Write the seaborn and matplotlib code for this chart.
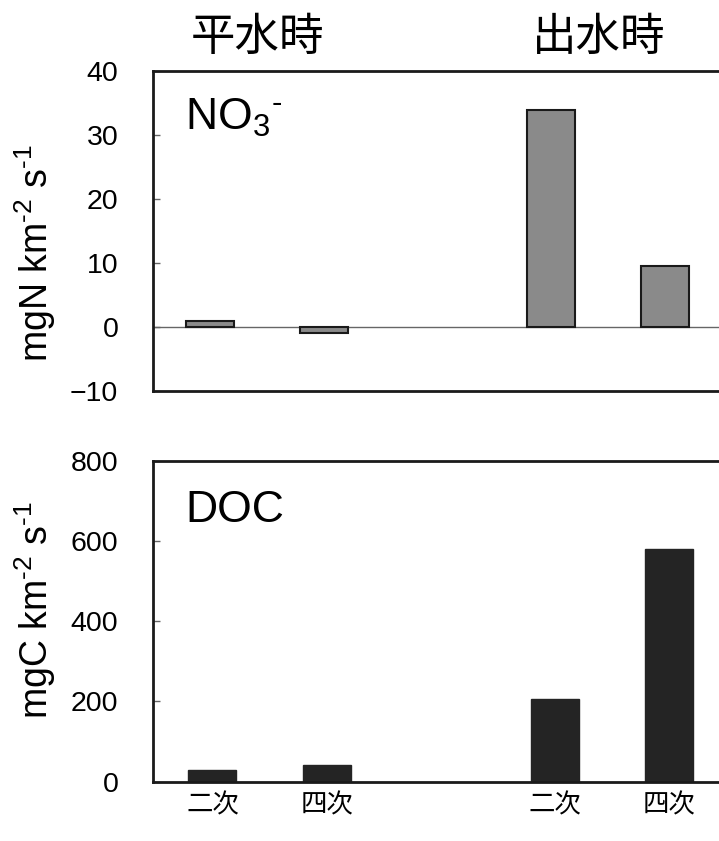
import numpy as np
import pandas as pd
import matplotlib
matplotlib.use("Agg")
import matplotlib.pyplot as plt
import matplotlib.transforms as mtransforms
import seaborn as sns

# values
conditions = ["平水時", "出水時"]
orders = ["二次", "四次"]
no3_flux = [0.9, -1.0, 33.9, 9.5]      # mgN km-2 s-1
doc_flux = [28, 41, 206, 579]          # mgC km-2 s-1
no3_ticks = [-10, 0, 10, 20, 30, 40]
doc_ticks = [0, 200, 400, 600, 800]

sns.set_style("ticks", rc={"text.color": "black", "axes.labelcolor": "black",
                           "xtick.color": "black", "ytick.color": "black"})
plt.rcParams["font.family"] = ["Liberation Sans", "Noto Sans CJK JP"]
plt.rcParams["mathtext.fontset"] = "custom"
plt.rcParams["mathtext.rm"] = "Liberation Sans"
plt.rcParams["mathtext.it"] = "Liberation Sans:italic"
plt.rcParams["mathtext.bf"] = "Liberation Sans:bold"
CJK = "Noto Sans CJK JP"

# one slot per bar, with an empty slot between the two flow conditions
rows = []
for gi, cond in enumerate(conditions):
    for oi, order in enumerate(orders):
        rows.append({"cond": cond, "order": order,
                     "slot": gi * (len(orders) + 1) + oi})
df = pd.DataFrame(rows)
df["no3"] = no3_flux
df["doc"] = doc_flux

fig = plt.figure(figsize=(7.19, 8.41), dpi=100)
ax1 = fig.add_axes([0.2128, 0.5354, 0.9497, 0.3805])
ax2 = fig.add_axes([0.2128, 0.0705, 0.9566, 0.3817])

sns.barplot(data=df, x="slot", y="no3", native_scale=True, width=0.42,
            color="#8a8a8a", edgecolor="#1a1a1a", linewidth=1.5,
            saturation=1, errorbar=None, ax=ax1)
ax1.axhline(0, color="#666666", lw=1, zorder=0)

sns.barplot(data=df, x="slot", y="doc", native_scale=True, width=0.42,
            color="#242424", edgecolor="#242424", linewidth=1,
            saturation=1, errorbar=None, ax=ax2)

for ax, ticks in [(ax1, no3_ticks), (ax2, doc_ticks)]:
    ax.set_ylim(ticks[0], ticks[-1])
    ax.set_yticks(ticks)
    ax.set_xlabel("")
    ax.set_ylabel("")
    ax.tick_params(axis="y", direction="in", length=5, width=1,
                   color="#666666", labelcolor="black", pad=25, labelsize=20.5)
    for sp in ax.spines.values():
        sp.set_linewidth(2)
        sp.set_color("#1a1a1a")

ax1.set_xlim(-0.5, 5.5)
ax1.set_xticks([])
ax2.set_xlim(-0.52, 5.5)
ax2.set_xticks(df["slot"])
ax2.set_xticklabels(df["order"], fontsize=19, family=CJK)
ax2.tick_params(axis="x", length=0, pad=7, labelcolor="black")

ax1.text(0.047, 0.815, "NO$_{3}{}^{‐}$", transform=ax1.transAxes,
         fontsize=32, va="baseline")
ax2.text(0.0465, 0.81, "DOC", transform=ax2.transAxes,
         fontsize=32, va="baseline")

fig.text(35 / 719, 1 - 253.5 / 841, "mgN km$^{‐2}$ s$^{‐1}$",
         rotation=90, ha="center", va="center", fontsize=27)
fig.text(35 / 719, 1 - 610 / 841, "mgC km$^{‐2}$ s$^{‐1}$",
         rotation=90, ha="center", va="center", fontsize=27)

# condition headers over each pair of bars
trans = mtransforms.blended_transform_factory(ax1.transData, fig.transFigure)
for cond, grp in df.groupby("cond", sort=False):
    ax1.text(grp["slot"].mean() - 0.08, 1 - 37 / 841, cond, transform=trans,
             ha="center", va="center", fontsize=32, family=CJK)

fig.savefig("out.png", dpi=100)
